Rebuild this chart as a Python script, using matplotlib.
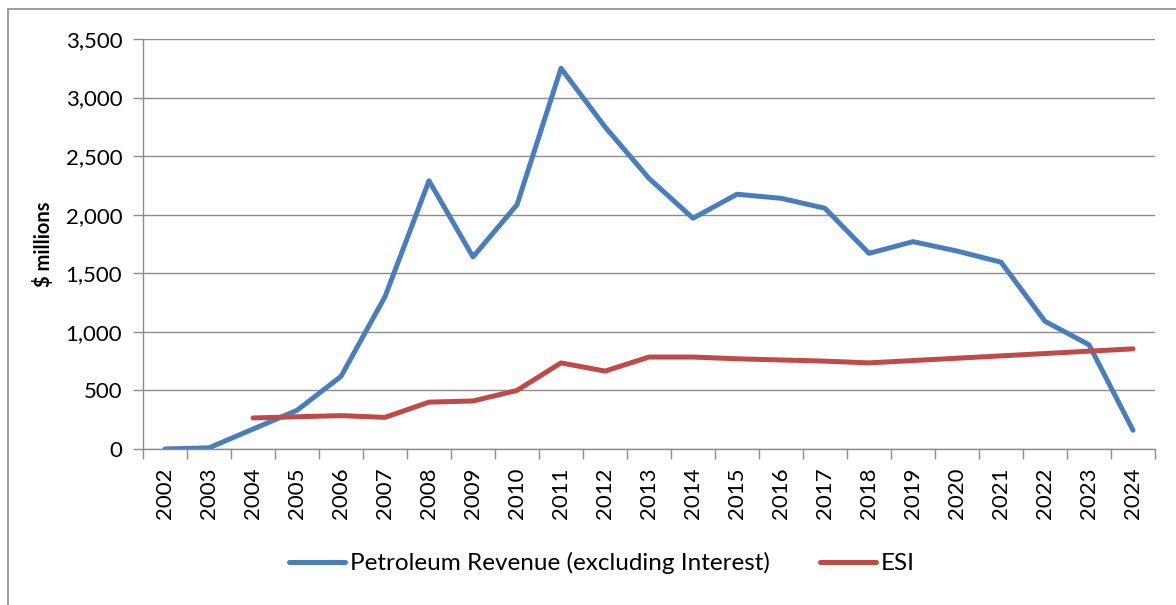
"""Petroleum revenue vs ESI line chart"""

import matplotlib
matplotlib.use('Agg')
import matplotlib.pyplot as plt
from matplotlib.patches import Rectangle
from matplotlib.ticker import FuncFormatter

years = [str(y) for y in range(2002, 2025)]
# petroleum revenue excluding interest, $ millions
petroleum = [0, 10, 170, 330, 620, 1300, 2290, 1640, 2085, 3250, 2750, 2310,
             1970, 2175, 2140, 2055, 1670, 1770, 1690, 1595, 1090, 890, 160]
# ESI from 2004 onward
esi_years = years[2:]
esi = [265, 275, 285, 270, 400, 410, 500, 735, 665, 785, 785, 770, 760, 750,
       735, 755, 775, 795, 815, 835, 855]

plt.rcParams['font.family'] = ['Lato', 'DejaVu Sans']

fig = plt.figure(figsize=(11.76, 6.05), dpi=100)
ax = fig.add_axes([143 / 1176, 1 - 449 / 605, (1155 - 143) / 1176, 410 / 605])

# outer chart border
fig.patches.append(Rectangle((8 / 1176, -0.1), 1.2, 1.1 - 9 / 605,
                             transform=fig.transFigure, fill=False,
                             edgecolor='#8c8c8c', linewidth=1.2))

x = list(range(len(years)))
esi_x = [years.index(y) for y in esi_years]
ax.plot(x, petroleum, color='#4A7EBB', linewidth=3.6, solid_capstyle='round',
        label='Petroleum Revenue (excluding Interest)')
ax.plot(esi_x, esi, color='#BE4B48', linewidth=3.6, solid_capstyle='round',
        label='ESI')

ax.set_xlim(-0.5, len(years) - 0.5)
ax.set_ylim(0, 3500)
ax.set_yticks(range(0, 3501, 500))
ax.yaxis.set_major_formatter(FuncFormatter(lambda v, p: f'{int(v):,}'))
ax.grid(axis='y', color='#8c8c8c', linewidth=1)
ax.set_axisbelow(True)

ax.set_xticks(x)
ax.set_xticklabels(years, rotation=90)
ax.set_xticks([i - 0.5 for i in range(len(years) + 1)], minor=True)
ax.tick_params(axis='x', which='major', length=0, pad=13, labelsize=16)
ax.tick_params(axis='x', which='minor', length=7, color='#8c8c8c', width=1)
ax.tick_params(axis='y', length=7, color='#8c8c8c', width=1, labelsize=16, pad=8)

for side in ['top', 'right']:
    ax.spines[side].set_visible(False)
for side in ['left', 'bottom']:
    ax.spines[side].set_color('#8c8c8c')
    ax.spines[side].set_linewidth(1)

ax.set_ylabel('\\$ millions', fontsize=14.5, fontweight='bold', labelpad=8)

fig.legend(loc='center', bbox_to_anchor=(602 / 1176, 1 - 563 / 605), ncol=2,
           frameon=False, fontsize=17.5, handlelength=2.3, columnspacing=2.1,
           handletextpad=0.2)

plt.savefig('out.png', dpi=100)
